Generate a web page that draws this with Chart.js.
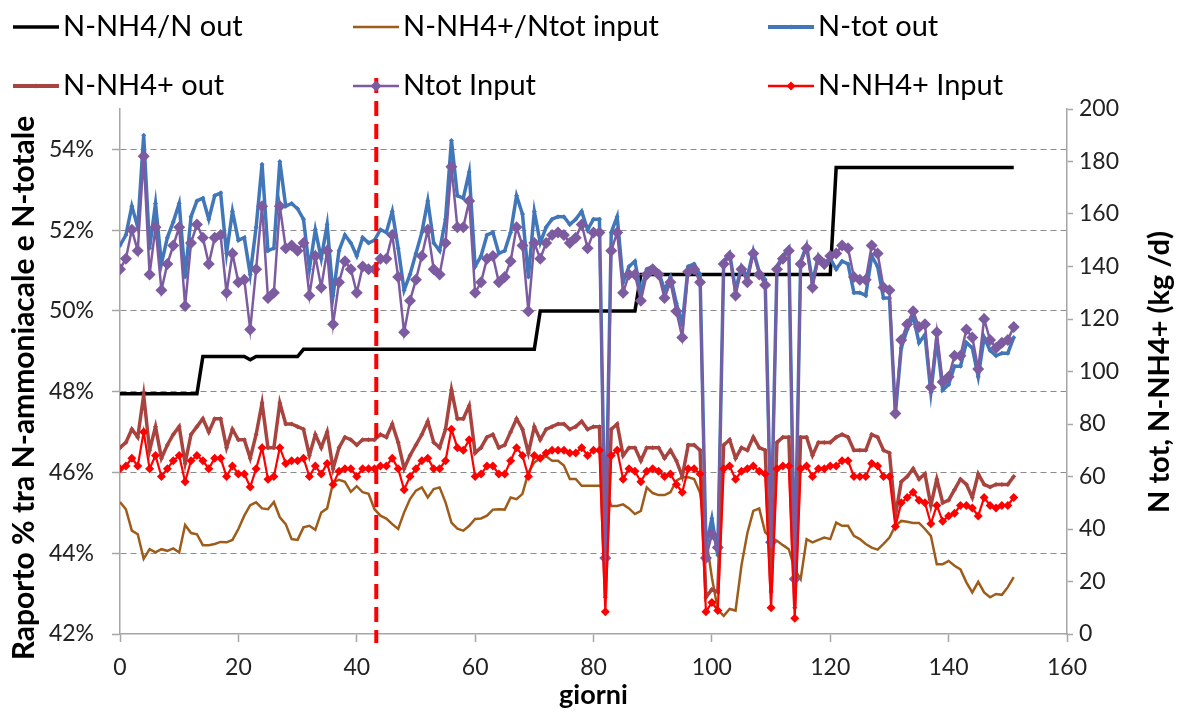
<!DOCTYPE html>
<html>
<head>
<meta charset="utf-8">
<script src="https://cdn.jsdelivr.net/npm/chart.js@4"></script>
<style>
  html, body { margin: 0; padding: 0; background: #fff; }
</style>
</head>
<body>
<canvas id="chart" width="1189" height="717"></canvas>
<script>
// giorni 0..151 (one sample a day)
const days = Array.from({ length: 152 }, (_, i) => i);

// N-tot out (kg/d, right axis)
const nTotOut = [
  148,152,163,155,190,147,164,141,151,157, 164,136,159,165,166,158,167,168,145,161,
  150,151,137,155,179,146,147,180,163,164, 162,158,139,154,143,156,129,146,152,149,
  144,151,149,150,154,153,161,147,131,137, 145,153,165,149,146,158,188,167,166,176,
  140,144,152,153,145,146,153,167,160,136, 161,149,155,158,159,159,156,158,161,154,
  158,158,31,153,159,134,140,142,130,139, 140,138,131,136,126,118,140,141,137,33,
  44,30,142,145,131,140,136,146,138,135, 38,140,144,147,22,142,148,134,144,140,
  143,139,142,141,130,130,129,144,140,128, 128,84,109,116,121,111,114,92,112,93,
  95,102,102,111,109,98,113,108,106,107, 107,113
];

// Ntot Input (kg/d, right axis)
const nTotIn = [
  139,143,154,146,182,137,155,131,141,148, 155,125,149,156,151,141,151,152,130,145,
  134,135,116,139,163,128,130,163,147,148, 146,149,129,144,132,146,118,134,142,139,
  130,140,139,139,143,143,152,136,115,127, 135,144,154,139,137,149,178,155,155,165,
  130,134,143,144,134,136,142,155,148,123, 149,143,149,152,153,152,149,151,156,147,
  153,153,29,146,153,130,137,137,127,137, 139,137,128,134,123,113,138,139,134,29,
  38,33,141,144,129,139,134,145,137,133, 35,139,143,146,21,141,147,132,143,141,
  144,145,148,147,136,135,135,148,145,132, 131,84,112,118,123,117,118,94,115,96,
  98,106,106,116,113,101,120,112,109,111, 112,117
];

// N-NH4+ out (kg/d, right axis)
const nh4Out = [
  71,73,78,75,91,70,79,67,72,76, 79,65,76,79,82,77,82,82,71,78,
  74,74,67,76,88,71,71,88,80,80, 79,78,68,76,71,77,63,71,75,74,
  72,74,74,74,76,75,80,73,63,68, 72,76,81,73,71,78,93,82,82,87,
  69,71,75,76,71,72,77,82,78,69, 79,74,78,79,80,80,78,79,81,78,
  79,79,14,78,80,68,71,71,66,71, 71,71,67,70,66,60,72,72,70,14,
  17,16,72,74,67,71,70,75,71,70, 16,73,75,75,10,75,75,68,73,73,
  73,75,76,75,70,70,70,76,75,70, 69,45,58,60,63,59,61,49,59,50,
  51,55,59,57,52,61,57,56,57,57, 57,60
];

// N-NH4+ Input (kg/d, right axis)
const nh4In = [
  63,64,67,64,77,63,68,60,63,66, 68,58,66,68,66,63,67,67,60,64,
  61,61,56,63,71,59,60,71,65,66, 66,67,60,64,61,65,57,62,63,63,
  60,63,63,63,64,64,67,63,55,60, 63,66,67,63,63,66,78,71,70,74,
  60,61,64,64,61,61,66,71,68,60, 68,67,69,70,70,70,69,69,71,68,
  70,70,8.5,68,70,59,63,62,58,62, 63,62,60,61,57,54,63,63,61,8.5,
  12,9,63,64,59,62,63,64,62,61, 10,63,64,64,6,63,64,60,63,63,
  64,64,66,66,60,60,60,65,64,60, 60,41,50,52,54,51,50,42,49,43,
  45,46,49,49,48,45,52,49,48,49, 49,52
];

// N-NH4+/Ntot input (%, left axis)
const ratioIn = [
  45.27,45.09,44.56,44.47,43.86,44.10,44.02,44.10,44.06,44.12, 44.02,44.70,44.50,44.47,44.20,44.20,44.23,44.28,44.27,44.33,
  44.60,44.93,45.19,45.26,45.11,45.09,45.27,44.89,44.72,44.35, 44.33,44.64,44.68,44.58,45.01,45.11,45.75,45.82,45.77,45.52,
  45.66,45.51,45.47,45.09,44.93,44.86,44.72,44.60,45.01,45.34, 45.55,45.63,45.38,45.59,45.63,45.26,44.76,44.61,44.56,44.68,
  44.85,44.86,44.93,45.08,45.09,45.08,45.38,45.34,45.47,46.00, 46.25,46.35,46.40,46.29,46.29,46.17,45.84,45.84,45.67,45.67,
  45.67,45.67,45.60,45.17,45.17,45.21,45.11,44.97,45.05,45.63, 45.49,45.44,45.44,45.51,45.80,45.88,45.88,45.84,45.50,44.40,
  43.40,42.60,42.45,42.62,42.58,43.70,44.50,45.05,45.11,44.52, 44.39,44.31,44.20,44.10,43.60,43.36,44.35,44.27,44.33,44.39,
  44.35,44.76,44.68,44.68,44.43,44.35,44.23,44.14,44.09,44.23, 44.39,44.68,44.80,44.78,44.75,44.75,44.60,44.43,43.73,43.73,
  43.81,43.69,43.60,43.28,43.03,43.29,43.03,42.91,42.99,42.97, 43.16,43.41
];

// N-NH4/N out (%, left axis) - step line, read at its corners
const ratioOutDays = [0, 13, 14, 21, 22, 23, 30, 31, 70, 71, 87, 88, 120, 121, 151];
const ratioOut     = [47.95, 47.95, 48.87, 48.87, 48.79, 48.87, 48.87, 49.05, 49.05, 50.0, 50.0, 50.9, 50.9, 53.55, 53.55];

// red dashed marker
const markerDay = 43.3;

const seriesNames = ['N-NH4/N out', 'N-NH4+/Ntot input', 'N-tot out', 'N-NH4+ out', 'Ntot Input', 'N-NH4+ Input'];

const pts = (xs, ys) => xs.map((x, i) => ({ x: x, y: ys[i] }));

const FONT = "Lato, 'Open Sans', sans-serif";

// draws legend grid, axis titles and the dashed marker
const extras = {
  id: 'extras',
  afterDraw(chart) {
    const { ctx, chartArea, scales } = chart;

    // dashed marker line
    const mx = scales.x.getPixelForValue(markerDay);
    ctx.save();
    ctx.strokeStyle = '#ff0000';
    ctx.lineWidth = 4;
    ctx.setLineDash([15, 8]);
    ctx.beginPath();
    ctx.moveTo(mx, 78);
    ctx.lineTo(mx, chartArea.bottom + 9);
    ctx.stroke();
    ctx.restore();

    // legend, 3 columns x 2 rows
    const colX = [13, 353, 768];
    const rowY = [27, 86];
    ctx.save();
    ctx.font = '29px ' + FONT;
    ctx.textBaseline = 'middle';
    ctx.fillStyle = '#000';
    chart.data.datasets.forEach((ds, i) => {
      const x = colX[i % 3], y = rowY[Math.floor(i / 3)];
      ctx.strokeStyle = ds.borderColor;
      ctx.lineWidth = ds.legendWidth;
      ctx.setLineDash([]);
      ctx.beginPath();
      ctx.moveTo(x, y);
      ctx.lineTo(x + 46, y);
      ctx.stroke();
      if (ds.pointRadius > 0) {
        const r = ds.legendMarker;
        ctx.fillStyle = ds.borderColor;
        ctx.beginPath();
        ctx.moveTo(x + 23 - r, y);
        ctx.lineTo(x + 23, y - r);
        ctx.lineTo(x + 23 + r, y);
        ctx.lineTo(x + 23, y + r);
        ctx.closePath();
        ctx.fill();
      }
      ctx.fillStyle = '#000';
      ctx.fillText(ds.label, x + 50, y);
    });
    ctx.restore();

    // axis titles
    ctx.save();
    ctx.fillStyle = '#000';
    ctx.textAlign = 'center';
    ctx.textBaseline = 'middle';
    ctx.font = 'bold 27px ' + FONT;
    ctx.fillText('giorni', (chartArea.left + chartArea.right) / 2, 695);

    ctx.font = 'bold 30px ' + FONT;
    ctx.translate(24, 388);
    ctx.rotate(-Math.PI / 2);
    ctx.fillText('Raporto % tra N-ammoniacale e N-totale', 0, 0);
    ctx.restore();

    ctx.save();
    ctx.fillStyle = '#000';
    ctx.font = 'bold 29px ' + FONT;
    ctx.textAlign = 'center';
    ctx.textBaseline = 'middle';
    ctx.translate(1160, 372);
    ctx.rotate(-Math.PI / 2);
    ctx.fillText('N tot, N-NH4+ (kg /d)', 0, 0);
    ctx.restore();
  }
};

const axisGrey = '#a6a6a6';
const tickFont = { family: FONT, size: 23 };

new Chart(document.getElementById('chart'), {
  type: 'line',
  data: {
    datasets: [
      { label: seriesNames[0], data: pts(ratioOutDays, ratioOut), yAxisID: 'y', order: 5,
        borderColor: '#000000', borderWidth: 3.5, pointRadius: 0, legendWidth: 3.5 },
      { label: seriesNames[1], data: pts(days, ratioIn), yAxisID: 'y', order: 4,
        borderColor: '#9e5c1b', borderWidth: 2.5, pointRadius: 0, legendWidth: 2.5 },
      { label: seriesNames[2], data: pts(days, nTotOut), yAxisID: 'y2', order: 3,
        borderColor: '#4177b8', backgroundColor: '#4177b8', borderWidth: 3.5,
        pointStyle: 'rectRot', pointRadius: 2.5, pointBorderWidth: 0, legendWidth: 4, legendMarker: 2.5 },
      { label: seriesNames[3], data: pts(days, nh4Out), yAxisID: 'y2', order: 2,
        borderColor: '#a8443f', backgroundColor: '#a8443f', borderWidth: 3.5,
        pointStyle: 'rectRot', pointRadius: 2.5, pointBorderWidth: 0, legendWidth: 4, legendMarker: 2.5 },
      { label: seriesNames[4], data: pts(days, nTotIn), yAxisID: 'y2', order: 1,
        borderColor: '#7d5ba0', backgroundColor: '#7d5ba0', borderWidth: 2.5,
        pointStyle: 'rectRot', pointRadius: 6, pointBorderWidth: 0, legendWidth: 2.5, legendMarker: 5.5 },
      { label: seriesNames[5], data: pts(days, nh4In), yAxisID: 'y2', order: 0,
        borderColor: '#ff0000', backgroundColor: '#ff0000', borderWidth: 2.2,
        pointStyle: 'rectRot', pointRadius: 4.5, pointBorderWidth: 0, legendWidth: 2.5, legendMarker: 4.5 }
    ]
  },
  options: {
    responsive: false,
    animation: false,
    layout: { padding: { top: 109, left: 0, right: 0, bottom: 0 } },
    elements: { line: { tension: 0 } },
    plugins: { legend: { display: false }, tooltip: { enabled: false } },
    scales: {
      x: {
        type: 'linear', min: 0, max: 160,
        ticks: { stepSize: 20, font: tickFont, color: '#222', padding: 12, maxRotation: 0 },
        grid: { drawOnChartArea: false, tickLength: 8, tickColor: axisGrey, tickWidth: 1.5 },
        border: { color: axisGrey, width: 1.5 },
        afterFit: s => { s.height = 83; }
      },
      y: {
        position: 'left', min: 42, max: 55,
        ticks: { stepSize: 2, includeBounds: false, font: tickFont, color: '#222', padding: 18,
                 callback: v => v + '%' },
        grid: {
          color: c => (c.tick && c.tick.value === 42) ? 'rgba(0,0,0,0)' : '#8c8c8c',
          lineWidth: 1, tickLength: 8, tickColor: axisGrey, tickWidth: 1.5, tickBorderDash: []
        },
        border: { color: axisGrey, width: 1.5, dash: [6, 4] },
        afterFit: s => { s.width = 120; }
      },
      y2: {
        position: 'right', min: 0, max: 200,
        ticks: { stepSize: 20, font: tickFont, color: '#222', padding: 6 },
        grid: { drawOnChartArea: false, tickLength: 6, tickColor: axisGrey, tickWidth: 1.5 },
        border: { color: axisGrey, width: 1.5 },
        afterFit: s => { s.width = 122; }
      }
    }
  },
  plugins: [extras]
});
</script>
</body>
</html>
